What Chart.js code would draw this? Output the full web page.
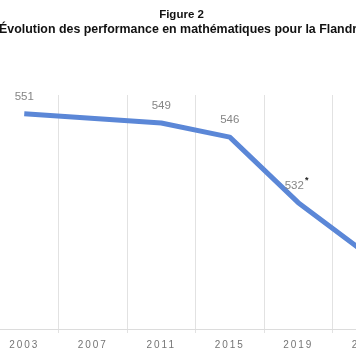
<!DOCTYPE html>
<html>
<head>
<meta charset="utf-8">
<script src="https://cdn.jsdelivr.net/npm/chart.js@4"></script>
<style>
  html, body { margin: 0; padding: 0; background: #fff; overflow: hidden; }
  #wrap { position: absolute; left: -38px; top: 0; width: 439px; height: 364px; }
</style>
</head>
<body>
<div id="wrap"><canvas id="c"></canvas></div>
<script>
const categories = ['2003', '2007', '2011', '2015', '2019', '2023'];
const scores = [551, null, 549, 546, 532, 521];
const pointLabels = ['551', '', '549', '546', '532', ''];
const pointMarks = ['', '', '', '', '*', ''];
const titleText = 'Figure 2';
const subtitleText = 'Évolution des performance en mathématiques pour la Flandre';

const FONT = '"Liberation Sans", Arial, Helvetica, sans-serif';

const valueLabels = {
  id: 'valueLabels',
  afterDatasetsDraw(chart) {
    const ctx = chart.ctx;
    const meta = chart.getDatasetMeta(0);
    ctx.save();
    ctx.textAlign = 'center';
    ctx.textBaseline = 'middle';
    meta.data.forEach((pt, i) => {
      const t = pointLabels[i];
      if (!t || scores[i] == null) return;
      ctx.font = '11.5px ' + FONT;
      ctx.fillStyle = '#858585';
      const shift = pointMarks[i] ? 4 : 0;
      const x = pt.x - shift, y = pt.y - 17;
      ctx.fillText(t, x, y);
      if (pointMarks[i]) {
        const w = ctx.measureText(t).width;
        ctx.font = 'bold 9px ' + FONT;
        ctx.fillStyle = '#222';
        ctx.fillText(pointMarks[i], x + w / 2 + 3, y - 5);
      }
    });
    ctx.restore();
  }
};

const spacedTicks = {
  id: 'spacedTicks',
  afterLayout(chart) {
    const s = chart.scales.x;
    if (s && !s._spacedWrapped) {
      const orig = s.drawLabels;
      s.drawLabels = function (area) {
        const ctx = this.ctx;
        ctx.save();
        ctx.letterSpacing = '2px';
        orig.call(this, area);
        ctx.restore();
      };
      s._spacedWrapped = true;
    }
  }
};

new Chart(document.getElementById('c'), {
  type: 'line',
  data: {
    labels: categories,
    datasets: [{
      data: scores,
      borderColor: '#5b87d7',
      borderWidth: 5,
      pointRadius: 0,
      pointHoverRadius: 0,
      spanGaps: true,
      tension: 0,
      borderJoinStyle: 'round',
      borderCapStyle: 'butt',
      fill: false
    }]
  },
  options: {
    responsive: true,
    maintainAspectRatio: false,
    animation: false,
    events: [],
    layout: { padding: 0 },
    plugins: {
      legend: { display: false },
      tooltip: { enabled: false },
      title: {
        display: true,
        text: titleText,
        color: '#111',
        font: { family: FONT, size: 11.5, weight: 'bold', lineHeight: 1.2 },
        padding: { top: 8, bottom: 0 }
      },
      subtitle: {
        display: true,
        text: subtitleText,
        color: '#111',
        font: { family: FONT, size: 12.4, weight: 'bold', lineHeight: 1.2 },
        padding: { top: 0, bottom: 58.3 }
      }
    },
    scales: {
      x: {
        type: 'category',
        offset: true,
        grid: { offset: true, color: '#e2e2e2', lineWidth: 1, tickLength: 4, drawTicks: true },
        border: { display: true, color: '#dcdcdc', width: 1 },
        ticks: {
          color: '#747474',
          font: { family: FONT, size: 10 },
          padding: 6,
          maxRotation: 0,
          autoSkip: false
        },
        afterFit(scale) { scale.height = 35; }
      },
      y: {
        min: 505,
        max: 555,
        display: true,
        grid: { display: false },
        border: { display: false },
        ticks: { display: false },
        afterFit(scale) { scale.width = 28; }
      }
    }
  },
  plugins: [valueLabels, spacedTicks]
});
</script>
</body>
</html>
